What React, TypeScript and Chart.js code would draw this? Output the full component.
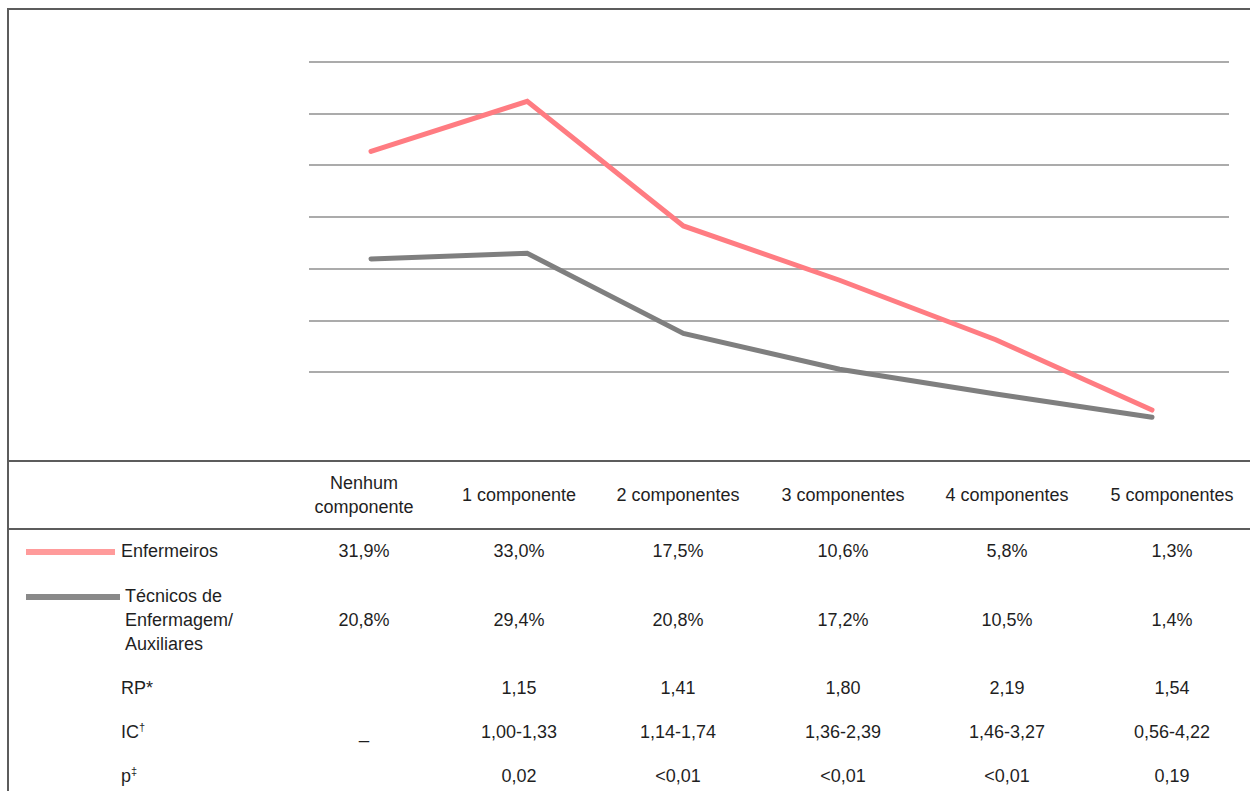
import React, { useEffect, useRef } from "react";
import { Chart, registerables } from "chart.js";

Chart.register(...registerables);

// ---- data ----
const categories = [
  "Nenhum componente",
  "1 componente",
  "2 componentes",
  "3 componentes",
  "4 componentes",
  "5 componentes",
];
const enfermeiros = [31.9, 33.0, 17.5, 10.6, 5.8, 1.3];
const tecnicos = [20.8, 29.4, 20.8, 17.2, 10.5, 1.4];
const rpValues = ["", "1,15", "1,41", "1,80", "2,19", "1,54"];
const icValues = ["_", "1,00-1,33", "1,14-1,74", "1,36-2,39", "1,46-3,27", "0,56-4,22"];
const pValues = ["", "0,02", "<0,01", "<0,01", "<0,01", "0,19"];
const yTicks = [0, 10, 20, 30, 40, 50, 60, 70];

// ---- styles / layout ----
const PINK_LINE = "#ff7c82";
const GRAY_LINE = "#7f7f7f";
const PINK_KEY = "#ff9b9b";
const GRAY_KEY = "#898989";
const GRID = "#ababab";
const RULE = "#5c5c5c";
const TEXT = "#1f1f1f";
const FONT = "'Liberation Sans', Arial, Helvetica, sans-serif";
const COL_X = [364, 519, 678, 843, 1007, 1172];
const COL_W = 158;

const fmtPct = (v: number) => v.toFixed(1).replace(".", ",") + "%";

function Cell(props: { cx: number; cy: number; children: React.ReactNode; w?: number }) {
  const w = props.w ?? COL_W;
  return (
    <div
      style={{
        position: "absolute",
        left: props.cx - w / 2,
        top: props.cy - 12,
        width: w,
        lineHeight: "24px",
        textAlign: "center",
        whiteSpace: "normal",
      }}
    >
      {props.children}
    </div>
  );
}

function Label(props: { x: number; cy: number; children: React.ReactNode }) {
  return (
    <div
      style={{
        position: "absolute",
        left: props.x,
        top: props.cy - 12,
        lineHeight: "24px",
        whiteSpace: "nowrap",
      }}
    >
      {props.children}
    </div>
  );
}

const supStyle: React.CSSProperties = { fontSize: 11, verticalAlign: "super", lineHeight: 0 };

export default function App() {
  const ref = useRef<HTMLCanvasElement | null>(null);

  useEffect(() => {
    document.documentElement.style.overflow = "hidden";
    document.body.style.overflow = "hidden";
    const canvas = ref.current;
    if (!canvas) return;
    const common = {
      borderWidth: 5,
      pointRadius: 0,
      pointHoverRadius: 0,
      fill: false,
      tension: 0,
      borderCapStyle: "round" as const,
      borderJoinStyle: "miter" as const,
    };
    const chart = new Chart(canvas, {
      type: "line",
      data: {
        datasets: [
          {
            label: "Enfermeiros",
            data: enfermeiros.map((v, i) => ({ x: i, y: v })),
            borderColor: GRAY_LINE,
            ...common,
          },
          {
            label: "Técnicos de Enfermagem/Auxiliares",
            data: tecnicos.map((v, i) => ({ x: i, y: v })),
            borderColor: PINK_LINE,
            ...common,
          },
        ],
      },
      options: {
        animation: false,
        responsive: true,
        maintainAspectRatio: false,
        events: [],
        layout: { padding: { left: 309, right: 21, top: 62, bottom: 37 } },
        plugins: { legend: { display: false }, tooltip: { enabled: false } },
        scales: {
          x: {
            type: "linear",
            display: false,
            min: -0.397,
            max: categories.length - 1 + 0.493,
          },
          y: {
            stacked: true,
            min: yTicks[0],
            max: yTicks[yTicks.length - 1],
            display: true,
            afterBuildTicks: (axis: any) => {
              axis.ticks = yTicks.map((v) => ({ value: v }));
            },
            ticks: { display: false },
            grid: {
              drawTicks: false,
              lineWidth: 2,
              color: (c: any) => (c.tick && c.tick.value === 0 ? "rgba(0,0,0,0)" : GRID),
            },
            border: { display: false },
          },
        },
      },
    });
    return () => chart.destroy();
  }, []);

  return (
    <div style={{ fontFamily: FONT, fontSize: 18, color: TEXT }}>
      {/* chart */}
      <div style={{ position: "absolute", left: 0, top: 0, width: 1250, height: 461 }}>
        <canvas ref={ref} />
      </div>

      {/* frame rules */}
      <div style={{ position: "absolute", left: 7, top: 8, width: 1250, height: 2, background: RULE }} />
      <div style={{ position: "absolute", left: 7, top: 8, width: 2, height: 800, background: RULE }} />
      <div style={{ position: "absolute", left: 7, top: 460, width: 1250, height: 2, background: RULE }} />
      <div style={{ position: "absolute", left: 7, top: 528, width: 1250, height: 2, background: RULE }} />

      {/* header row */}
      {categories.map((c, i) => (
        <Cell key={"h" + i} cx={COL_X[i]} cy={i === 0 ? 483 : 495} w={i === 0 ? 120 : COL_W}>
          {c}
        </Cell>
      ))}

      {/* Enfermeiros row */}
      <div style={{ position: "absolute", left: 26, top: 549, width: 89, height: 6, background: PINK_KEY }} />
      <Label x={121} cy={551}>Enfermeiros</Label>
      {enfermeiros.map((v, i) => (
        <Cell key={"e" + i} cx={COL_X[i]} cy={551}>
          {fmtPct(v)}
        </Cell>
      ))}

      {/* Técnicos row */}
      <div style={{ position: "absolute", left: 26, top: 594, width: 94, height: 6, background: GRAY_KEY }} />
      <Label x={125} cy={596}>Técnicos de</Label>
      <Label x={125} cy={620}>Enfermagem/</Label>
      <Label x={125} cy={644}>Auxiliares</Label>
      {tecnicos.map((v, i) => (
        <Cell key={"t" + i} cx={COL_X[i]} cy={620}>
          {fmtPct(v)}
        </Cell>
      ))}

      {/* RP */}
      <Label x={121} cy={688}>RP*</Label>
      {rpValues.map((v, i) => (
        <Cell key={"r" + i} cx={COL_X[i]} cy={688}>
          {v}
        </Cell>
      ))}

      {/* IC */}
      <Label x={121} cy={732}>
        IC<span style={supStyle}>†</span>
      </Label>
      {icValues.map((v, i) => (
        <Cell key={"i" + i} cx={COL_X[i]} cy={732}>
          {v}
        </Cell>
      ))}

      {/* p */}
      <Label x={121} cy={776}>
        p<span style={supStyle}>‡</span>
      </Label>
      {pValues.map((v, i) => (
        <Cell key={"p" + i} cx={COL_X[i]} cy={776}>
          {v}
        </Cell>
      ))}
    </div>
  );
}
